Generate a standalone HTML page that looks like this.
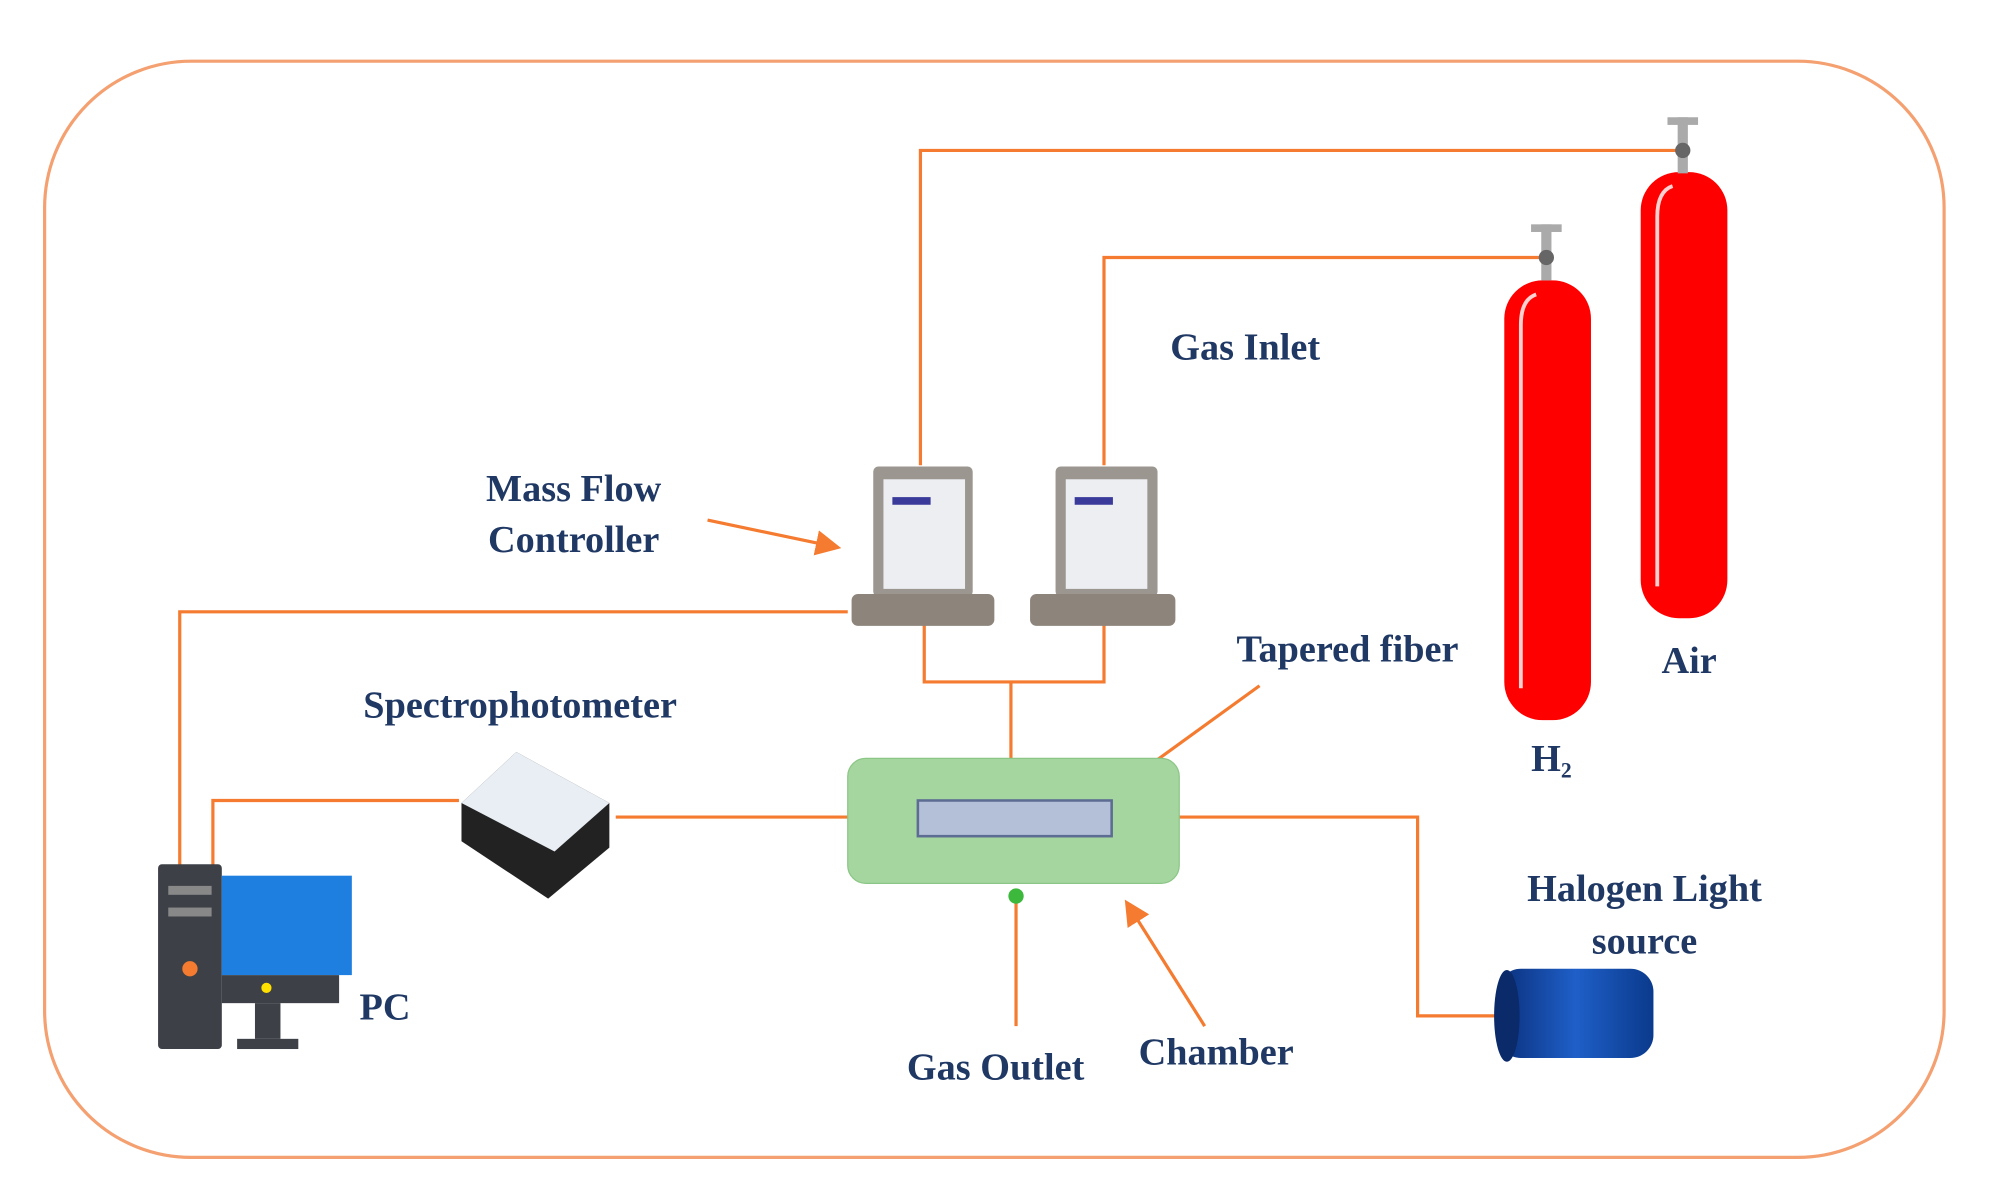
<!DOCTYPE html>
<html><head><meta charset="utf-8"><style>
html,body{margin:0;padding:0;background:#fff;}
svg{display:block}
text{font-family:"Liberation Serif",serif;font-weight:bold;fill:#1f3864;font-size:30px;}
</style></head><body>
<svg width="2002" height="1192" viewBox="0 0 1550 923" preserveAspectRatio="none">
<defs>
<linearGradient id="halo" x1="0" x2="1"><stop offset="0" stop-color="#0a2f7a"/><stop offset="0.5" stop-color="#1f5fc8"/><stop offset="1" stop-color="#0a3a8c"/></linearGradient>
<marker id="ah" markerWidth="8" markerHeight="8" refX="6" refY="4" orient="auto" markerUnits="strokeWidth"><path d="M0,0 L8,4 L0,8 z" fill="#f47b2f"/></marker>
</defs>
<g transform="scale(0.987)">
<rect x="35" y="48" width="1490" height="860" rx="115" fill="#fff" stroke="#f4a070" stroke-width="2.5"/>
<g stroke="#f47b2f" stroke-width="2.5" fill="none">
<polyline points="722,365 722,118 1320,118"/>
<polyline points="866,365 866,202 1213,202"/>
<polyline points="665,480 141,480 141,680"/>
<polyline points="725,490 725,535 866,535 866,490"/>
<line x1="793" y1="535" x2="793" y2="597"/>
<polyline points="360,628 167,628 167,680"/>
<line x1="483" y1="641" x2="720" y2="641"/>
<polyline points="872,641 1112,641 1112,797 1175,797"/>
<line x1="797" y1="703" x2="797" y2="805"/>
<line x1="555" y1="408" x2="655" y2="429" marker-end="url(#ah)"/>
<line x1="988" y1="538" x2="872" y2="622" marker-end="url(#ah)"/>
<line x1="945" y1="805" x2="885" y2="710" marker-end="url(#ah)"/>
</g>
<rect x="1287" y="135" width="68" height="350" rx="30" fill="#f00"/>
<path d="M1300,170 Q1300,150 1312,146 M1300,170 L1300,460" stroke="#ffd0d0" stroke-width="3" fill="none"/>
<rect x="1316" y="92" width="8" height="44" fill="#aaa"/><rect x="1308" y="92" width="24" height="6" fill="#aaa"/><circle cx="1320" cy="118" r="6" fill="#666"/>
<rect x="1180" y="220" width="68" height="345" rx="30" fill="#f00"/>
<path d="M1193,255 Q1193,235 1205,231 M1193,255 L1193,540" stroke="#ffd0d0" stroke-width="3" fill="none"/>
<rect x="1209" y="176" width="8" height="44" fill="#aaa"/><rect x="1201" y="176" width="24" height="6" fill="#aaa"/><circle cx="1213" cy="202" r="6" fill="#666"/>
<g>
<rect x="685" y="366" width="78" height="102" rx="4" fill="#9c9690"/><rect x="693" y="376" width="64" height="86" fill="#eceef2"/>
<rect x="700" y="390" width="30" height="6" fill="#3a3a9a"/>
<rect x="668" y="466" width="112" height="25" rx="5" fill="#8d857c"/>
<rect x="828" y="366" width="80" height="102" rx="4" fill="#9c9690"/><rect x="836" y="376" width="64" height="86" fill="#eceef2"/>
<rect x="843" y="390" width="30" height="6" fill="#3a3a9a"/>
<rect x="808" y="466" width="114" height="25" rx="5" fill="#8d857c"/>
</g>
<rect x="665" y="595" width="260" height="98" rx="14" fill="#a5d6a0" stroke="#8cc686"/>
<rect x="720" y="628" width="152" height="28" fill="#b4bfd8" stroke="#5c6c92" stroke-width="2"/>
<circle cx="797" cy="703" r="6" fill="#3cb83c"/>
<polygon points="362,630 405,590 478,630 478,665 430,705 362,660" fill="#222"/>
<polygon points="362,630 405,590 478,630 435,668" fill="#e8eef4"/>
<rect x="124" y="678" width="50" height="145" rx="3" fill="#3d4046"/>
<rect x="132" y="695" width="34" height="7" fill="#888"/><rect x="132" y="712" width="34" height="7" fill="#888"/>
<circle cx="149" cy="760" r="6" fill="#f47b2f"/>
<rect x="174" y="687" width="102" height="78" fill="#1e7fe0"/>
<rect x="174" y="765" width="92" height="22" fill="#3d4046"/><circle cx="209" cy="775" r="4" fill="#ffe000"/>
<rect x="200" y="787" width="20" height="28" fill="#3d4046"/><rect x="186" y="815" width="48" height="8" fill="#3d4046"/>
<rect x="1175" y="760" width="122" height="70" rx="18" fill="url(#halo)"/>
<ellipse cx="1182" cy="797" rx="10" ry="36" fill="#0a2a6a"/>
<text x="918" y="282">Gas Inlet</text>
<text x="450" y="393" text-anchor="middle">Mass Flow</text>
<text x="450" y="433" text-anchor="middle">Controller</text>
<text x="1057" y="519" text-anchor="middle">Tapered fiber</text>
<text x="408" y="563" text-anchor="middle">Spectrophotometer</text>
<text x="1325" y="528" text-anchor="middle">Air</text>
<text x="1217" y="605" text-anchor="middle">H<tspan font-size="17" dy="5">2</tspan></text>
<text x="1290" y="707" text-anchor="middle">Halogen Light</text>
<text x="1290" y="748" text-anchor="middle">source</text>
<text x="302" y="800" text-anchor="middle">PC</text>
<text x="781" y="847" text-anchor="middle">Gas Outlet</text>
<text x="954" y="835" text-anchor="middle">Chamber</text>
</g>
</svg>
</body></html>
